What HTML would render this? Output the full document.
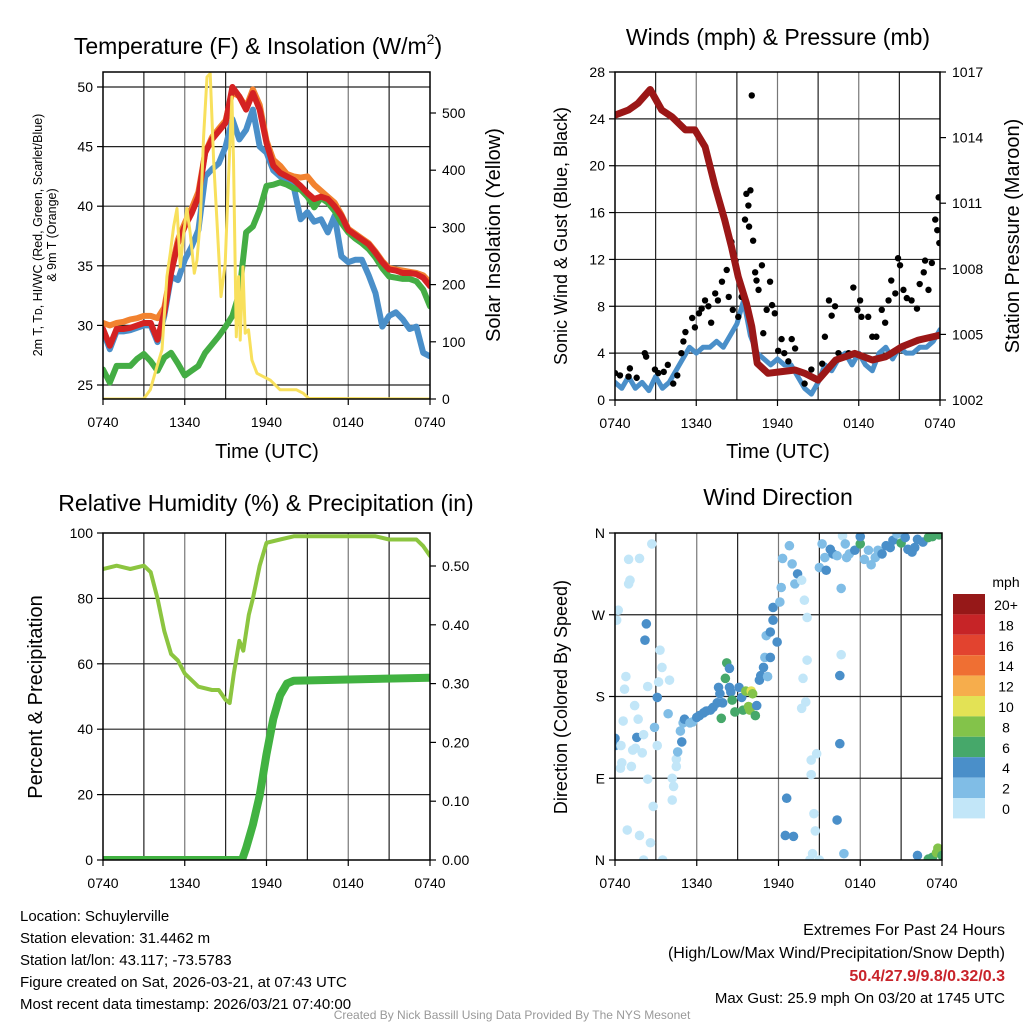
<!DOCTYPE html>
<html><head><meta charset="utf-8"><style>
html,body{margin:0;padding:0;background:#fff;}
svg{display:block;font-family:"Liberation Sans",sans-serif;}
</style></head><body>
<svg id="c" width="1024" height="1024" viewBox="0 0 1024 1024" xmlns="http://www.w3.org/2000/svg"></svg>
<script>
// ---------- DATA ----------
const hours = [];
for (let i = 0; i <= 48; i++) hours.push(i * 0.5);
const xTickLabels = ["0740","1340","1940","0140","0740"];
const tempRed = [29.7,28.3,29.7,29.7,29.8,30,30.2,30.2,28.8,31.1,34.4,36.9,38.3,39.4,40.8,44.5,45.6,46.3,47,50,49.2,48.1,49.5,48.1,45.3,43.4,42.8,42.5,42.2,41.7,41.1,40.6,40.8,40.6,40,39.2,38,37.6,37.2,36.8,36.1,35.3,34.7,34.6,34.4,34.4,34.3,34,33.3];
const temp9mOrange = [30.2,30,30.2,30.3,30.5,30.6,30.8,30.8,30.6,31.5,34.6,37.2,38.6,39.8,41.2,44.5,45.8,46.5,47.2,49.6,49.2,48.3,49.8,48.5,45.5,43.9,43.4,42.7,42.5,42.4,42.5,41.8,41.3,40.8,40.3,39.3,38.1,37.7,37.3,36.9,36.2,35.4,34.8,34.7,34.6,34.5,34.4,34.2,33.6];
const dewGreen = [26.3,25.2,26.6,26.6,26.6,27.2,27.6,27.0,26.2,27.3,27.7,26.8,25.8,26.2,26.6,27.7,28.4,29.1,29.9,30.8,32.7,37.8,38.3,39.7,41.7,41.8,42,41.8,41.5,41.4,40.8,39.9,40.7,40.3,39.6,38.6,37.8,37.3,36.9,36.4,35.7,34.8,34.1,34,33.9,33.9,33.7,33,31.6];
const hiwcBlue = [29.5,28,29.5,29.5,29.6,29.8,30,30,28.6,30.8,34.1,33.8,35.5,36.6,38,42.5,43.1,43.6,45,47.3,45.6,46.4,48.1,45,44.5,43,42.5,42.2,41.6,38.9,39.5,38.7,38.9,37.8,39.2,35.8,35.3,35.5,35.5,34.2,32.7,29.9,30.8,31.1,30.5,29.7,29.9,27.7,27.4];
const solarT = [0,2.98,3.47,3.96,4.33,4.69,4.94,5.18,5.43,5.67,5.92,6.16,6.4,6.7,6.9,7.14,7.38,7.63,7.87,8.12,8.36,8.66,8.97,9.22,9.46,9.58,9.78,9.95,10.07,10.27,10.44,10.68,10.93,11.3,11.78,12.27,13,13.86,14.2,14.7,15.1,24];
const solarV = [0,0,16,57,86,214,255,301,333,231,290,333,290,220,243,313,459,563,569,418,313,179,237,389,528,418,109,214,103,231,115,121,68,45,39,33,16,16,16,10,1,0];
const tempTicks = [25,30,35,40,45,50];
const solarTicks = [0,100,200,300,400,500];

const windBlue = [1.5,1,2,1,1.5,0.8,2,1,1.5,2.5,3.5,4.5,4,4.5,4.5,5,4.5,5.5,6.5,8.5,5.5,4,3.5,3,3.5,3,3,2,1,0.5,1.5,3,2.5,3.5,4,3,4,3,2.5,4,4.5,3.5,4.5,4,4,4.5,4.5,5,6];
const gustT = [0,0.37,1,1.1,1.6,2.2,2.3,2.95,3.2,3.6,3.9,4.3,4.6,4.9,5.05,5.2,5.7,5.9,6.2,6.4,6.65,6.9,7.1,7.4,7.6,7.9,8.25,8.4,8.6,8.7,8.9,9.1,9.35,9.6,9.7,9.85,9.9,10,10.1,10.2,10.35,10.45,10.6,10.85,10.95,11.2,11.45,11.6,11.8,12.05,12.3,12.5,12.8,13.05,13.3,14,14.5,15.3,15.5,15.8,16,16.25,16.5,17.25,17.6,17.9,18.1,18.2,18.7,19,19.3,19.7,19.95,20.2,20.4,20.7,20.9,21.05,21.3,21.55,21.9,22.3,22.5,22.8,22.9,23.15,23.4,23.65,23.8,23.9,23.95];
const gustV = [2.3,2.1,2.0,2.7,1.9,4.0,3.7,2.6,2.3,2.4,3.0,1.4,2.1,4.0,5.0,5.8,7.0,6.2,7.4,7.8,8.5,8.0,6.6,9.1,8.5,10.1,11.1,8.8,13.5,7.7,11.9,7.1,8.8,15.4,17.6,16.6,14.8,17.9,26.0,13.6,10.9,10.2,9.4,11.5,5.7,7.7,10.1,8.1,7.4,4.2,5.2,4.0,3.3,5.2,4.4,1.4,2.6,3.1,5.4,8.5,7.2,8.0,4.0,4.0,9.6,7.7,8.5,7.1,7.1,5.4,5.4,7.7,6.6,8.5,10.2,9.1,12.1,11.5,9.4,8.7,8.5,7.8,9.9,10.9,11.9,9.4,11.7,15.4,14.5,17.3,13.4];
const presT = [0,1,1.7,2.6,3.45,4.2,5.2,5.9,6.65,7.4,8.1,8.6,9.1,9.7,10.1,10.5,11.3,12.3,13.3,14.0,15.0,16.3,17.7,19,20,21.2,22.4,24];
const presV = [1015.03,1015.26,1015.57,1016.2,1015.26,1014.95,1014.35,1014.35,1013.58,1011.75,1010.23,1009.0,1007.64,1006.42,1005.35,1003.68,1003.22,1003.3,1003.37,1003.22,1002.91,1003.83,1004.13,1003.83,1003.98,1004.44,1004.74,1004.97];
const windTicks = [0,4,8,12,16,20,24,28];
const presTicks = [1002,1005,1008,1011,1014,1017];

const rhT = [0,1,2,3,3.5,4,4.5,5,5.5,6,7,8,8.5,9,9.3,9.6,10,10.3,10.7,11,11.5,12,13,14,16,18,20,21,23,23.5,24];
const rhV = [89,90,89,90,88,80,70,63,61,57,53,52,52,49,48,57,67,64,75,80,90,97,98,99,99,99,99,98,98,96,93];
const precT = [0,10.2,10.5,11,11.5,12,12.5,13,13.5,14,24];
const precV = [0,0,0.02,0.06,0.11,0.18,0.24,0.28,0.30,0.305,0.31];
const rhTicks = [0,20,40,60,80,100];
const precTicks = [0,0.1,0.2,0.3,0.4,0.5];

const dirT = [0.24,0.12,1.0,1.8,2.7,1.0,1.1,2.3,2.2,3.3,3.45,0.8,0.7,2.4,3.2,4.0,3.1,1.44,0.6,1.7,3.9,0,0,0.44,1.6,2.1,2.9,3.1,1.3,1.5,2.0,1.2,0.4,0.5,2.4,2.8,0.9,1.8,2.6,2.1,3.5,4.2,4.3,4.2,4.5,4.5,4.6,4.9,4.8,5.0,5.1,5.5,5.7,6.0,6.2,6.5,6.7,7.0,7.2,7.5,7.6,7.7,7.8,7.9,8.2,8.1,8.4,8.4,8.5,8.6,8.8,9.1,9.3,9.4,9.6,9.8,10.0,10.1,9.9,10.3,10.4,10.6,10.7,10.9,11.0,11.2,11.1,11.4,11.4,11.6,11.9,11.6,12.1,12.2,12.3,12.8,13.0,13.2,13.4,13.7,13.9,14.1,14.1,13.8,14.0,13.7,14.8,14.4,14.4,12.6,12.5,13.1,14.6,14.7,14.5,14.3,15.0,15.0,15.2,15.4,15.5,15.8,16.0,16.3,16.5,16.5,16.6,16.6,16.7,16.9,17.0,17.2,17.6,18.0,18.0,18.3,18.6,18.8,19.1,19.3,19.6,19.9,20.2,20.4,20.7,21.0,21.3,21.5,21.8,22.0,22.2,22.6,23.0,23.3,23.8,16.8,16.3,22.2,23.0,23.3,23.6,23.7,24.0];
const dirDeg = [275,264,331,332,348,304,308,260,242,231,212,202,188,191,196,198,179,170,153,155,161,134,126,126,135,138,146,126,121,123,118,103,101,107,89,59,33,27,19,0,0,90,81,66,103,111,119,130,142,151,155,151,152,157,159,162,164,165,168,173,190,183,156,173,217,200,211,190,185,176,163,190,179,165,186,169,186,183,165,159,170,198,203,212,223,202,247,223,251,264,240,278,284,300,332,346,326,304,315,308,286,267,220,200,174,167,117,110,94,68,27,26,51,32,7,0,0,322,348,333,319,342,337,335,128,203,226,299,357,348,333,337,341,348,356,331,341,325,333,341,337,346,344,352,359,349,355,342,339,344,353,350,355,356,358,7,44,5,1,3,8,13,5];
const dirSpeed = [1,1,1,1,1,1,1,5,5,1,1,1,1,1,1,1,5,1,1,1,3,5,5,1,5,1,3,1,1,1,1,1,1,1,1,1,1,1,1,1,1,1,1,1,1,1,3,5,3,3,5,3,3,5,5,5,5,5,5,5,5,5,7,5,7,7,5,5,5,7,7,5,5,7,9,9,10,9,9,7,5,5,5,5,3,3,3,5,5,5,5,5,3,3,3,3,3,3,5,1,1,1,1,1,1,1,1,1,1,5,5,5,1,1,1,1,1,3,3,3,5,5,5,3,5,5,1,3,1,3,3,3,5,7,5,3,3,3,3,3,5,5,5,5,3,7,5,5,5,5,5,5,7,7,7,3,5,5,7,7,9,9,7];
const speedLabels = ["0","2","4","6","8","10","12","14","16","18","20+"];
const speedColors = ["#c2e6f8","#80bde6","#4a8fc9","#46a86a","#83c34a","#e3e255","#f6ad4c","#ef6f33","#e2432f","#c62427","#961818"];
const dirTicks = [0,90,180,270,360];
const dirTickLabels = ["N","E","S","W","N"];

// ---------- DRAW ----------
const NS = "http://www.w3.org/2000/svg";
const svg = document.getElementById("c");
function el(tag, attrs, parent) {
  const e = document.createElementNS(NS, tag);
  for (const k in attrs) e.setAttribute(k, attrs[k]);
  (parent || svg).appendChild(e);
  return e;
}
function txt(s, x, y, size, anchor, extra) {
  const t = el("text", Object.assign({x: x, y: y, "font-size": size, "text-anchor": anchor || "middle", fill: "#000"}, extra || {}));
  t.textContent = s;
  return t;
}
function scale(d0, d1, r0, r1) { return v => r0 + (v - d0) / (d1 - d0) * (r1 - r0); }
function pathFrom(ts, vs, xs, ys) {
  let d = "";
  for (let i = 0; i < ts.length; i++) { if (vs[i] == null) continue; d += (d ? "L" : "M") + xs(ts[i]).toFixed(1) + "," + ys(vs[i]).toFixed(1); }
  return d;
}

function frame(p, name, leftTicks, leftFmt, rightTicks, rightFmt, ysL, ysR) {
  const g = el("g", {});
  
  
  for (let h = 3; h < 24; h += 3) {
    const x = p.xs(h);
    const gl = el("line", {x1: x, x2: x, y1: p.y0, y2: p.y1, stroke: (h % 6 === 0) ? "#777" : "#222", "stroke-width": 1.2}, g);
    
    
  }
  leftTicks.forEach((v, i) => {
    const y = ysL(v);
    if (y > p.y0 + 1 && y < p.y1 - 1) {
      const hl = el("line", {x1: p.x0, x2: p.x1, y1: y, y2: y, stroke: "#222", "stroke-width": 1.2}, g);
      
      
    }
    el("line", {x1: p.x0 - 6, x2: p.x0, y1: y, y2: y, stroke: "#000", "stroke-width": 1.2}, g);
    const t = txt(leftFmt(v, i), p.x0 - 10, y + 5, 14, "end");
    
    
  });
  if (rightTicks) rightTicks.forEach((v, i) => {
    const y = ysR(v);
    el("line", {x1: p.x1, x2: p.x1 + 6, y1: y, y2: y, stroke: "#000", "stroke-width": 1.2}, g);
    const t = txt(rightFmt(v, i), p.x1 + 12, y + 5, 14, "start");
    
    
  });
  xTickLabels.forEach((s, i) => {
    const x = p.xs(i * 6);
    el("line", {x1: x, x2: x, y1: p.y1, y2: p.y1 + 6, stroke: "#000", "stroke-width": 1.2}, g);
    const t = txt(s, x, p.y1 + 28, 14, "middle");
    
    
  });
  return g;
}
function border(p) {
  const b = el("rect", {x: p.x0, y: p.y0, width: p.x1 - p.x0, height: p.y1 - p.y0, fill: "none", stroke: "#000", "stroke-width": 1.5});
  
  
}
function clip(id, p) {
  const cp = el("clipPath", {id: id});
  el("rect", {x: p.x0, y: p.y0, width: p.x1 - p.x0, height: p.y1 - p.y0}, cp);
}
function line(ts, vs, p, ys, color, w, name, clipId) {
  const l = el("path", {d: pathFrom(ts, vs, p.xs, ys), fill: "none", stroke: color, "stroke-width": w, "stroke-linejoin": "round", "stroke-linecap": "round", "clip-path": "url(#" + clipId + ")"});
  
  
  return l;
}
function rotText(s, x, y, size, name) {
  const t = txt(s, x, y, size, "middle", {transform: "rotate(-90 " + x + " " + y + ")"});
  
  
  return t;
}

// Panel 1
const p1 = {x0: 103, x1: 430, y0: 72, y1: 399};
p1.xs = scale(0, 24, p1.x0, p1.x1);
const y1L = scale(25, 50, 385, 87);
const y1R = scale(0, 500, 399, 113);
clip("c1", p1);
frame(p1, "temperature", tempTicks, v => String(v), solarTicks, v => String(v), y1L, y1R);
line(hours, hiwcBlue, p1, y1L, "#4a8fc9", 6, "heat-index-windchill-line", "c1");
line(hours, dewGreen, p1, y1L, "#44ad44", 6, "dewpoint-line", "c1");
line(hours, temp9mOrange, p1, y1L, "#f2822f", 6, "temperature-9m-line", "c1");
line(hours, tempRed, p1, y1L, "#d42222", 6, "temperature-2m-line", "c1");
line(solarT, solarV, p1, y1R, "#f8e05c", 3, "solar-insolation-line", "c1");
border(p1);
let t = txt("Temperature (F) & Insolation (W/m", 258, 54, 23, "middle");


const sup = el("tspan", {"font-size": 14, dy: -10}, t); sup.textContent = "2";
const sup2 = el("tspan", {dy: 10}, t); sup2.textContent = ")";
t = txt("Time (UTC)", 267, 458, 20);  
rotText("2m T, T\u1d05, HI/WC (Red, Green, Scarlet/Blue)", 42, 235, 12.5, "temperature-y-axis-title");
rotText("& 9m T (Orange)", 56, 235, 12.5, "temperature-y-axis-title-line2");
rotText("Solar Insolation (Yellow)", 500, 235, 20, "solar-y-axis-title");

// Panel 2
const p2 = {x0: 615, x1: 940, y0: 72, y1: 400};
p2.xs = scale(0, 24, p2.x0, p2.x1);
const y2L = scale(0, 28, 400, 72);
const y2R = scale(1002, 1017, 400, 72);
clip("c2", p2);
frame(p2, "winds", windTicks, v => String(v), presTicks, v => String(v), y2L, y2R);
line(hours, windBlue, p2, y2L, "#4a8fc9", 5, "sonic-wind-line", "c2");
const gg = el("g", {"clip-path": "url(#c2)"});


gustT.forEach((h, i) => {
  const c = el("circle", {cx: p2.xs(h), cy: y2L(gustV[i]), r: 3.2, fill: "#000"}, gg);
  
  
});
line(presT, presV, p2, y2R, "#9b1717", 7, "station-pressure-line", "c2");
border(p2);
t = txt("Winds (mph) & Pressure (mb)", 778, 45, 23);  
t = txt("Time (UTC)", 778, 458, 20);  
rotText("Sonic Wind & Gust (Blue, Black)", 567, 236, 18, "wind-y-axis-title");
rotText("Station Pressure (Maroon)", 1019, 236, 20, "pressure-y-axis-title");

// Panel 3
const p3 = {x0: 103, x1: 430, y0: 533, y1: 860};
p3.xs = scale(0, 24, p3.x0, p3.x1);
const y3L = scale(0, 100, 860, 533);
const y3R = scale(0, 0.5, 860, 566);
clip("c3", p3);
frame(p3, "humidity", rhTicks, v => String(v), precTicks, v => v.toFixed(2), y3L, y3R);
line(rhT, rhV, p3, y3L, "#8cc540", 4, "relative-humidity-line", "c3");
line(precT, precV, p3, y3R, "#41b241", 8, "precipitation-line", "c3");
border(p3);
t = txt("Relative Humidity (%) & Precipitation (in)", 266, 511, 23);  
rotText("Percent & Precipitation", 42, 697, 20, "humidity-y-axis-title");

// Panel 4
const p4 = {x0: 615, x1: 942, y0: 533, y1: 860};
p4.xs = scale(0, 24, p4.x0, p4.x1);
const y4 = scale(0, 360, 860, 533);
clip("c4", p4);
frame(p4, "wind-direction", dirTicks, (v, i) => dirTickLabels[i], null, null, y4, null);
const dg = el("g", {"clip-path": "url(#c4)"});


dirT.forEach((h, i) => {
  const s = dirSpeed[i];
  const ci = Math.min(10, Math.max(0, Math.floor(s / 2)));
  const c = el("circle", {cx: p4.xs(h), cy: y4(dirDeg[i]), r: 4.8, fill: speedColors[ci]}, dg);
  
  
});
border(p4);
t = txt("Wind Direction", 778, 505, 23);  
rotText("Direction (Colored By Speed)", 567, 697, 18, "direction-y-axis-title");

// Colorbar legend
const lg = el("g", {});


t = txt("mph", 1006, 587, 14);  
speedLabels.forEach((s, i) => {
  const k = speedLabels.length - 1 - i;
  const y = 594 + i * 20.4;
  const r = el("rect", {x: 953, y: y, width: 32, height: 20.4, fill: speedColors[k]}, lg);
  
  
  const lt = txt(speedLabels[k], 1006, y + 16, 14, "middle");
  
  
});

// Footer text
const info = ["Location: Schuylerville","Station elevation: 31.4462 m","Station lat/lon: 43.117; -73.5783","Figure created on Sat, 2026-03-21, at 07:43 UTC","Most recent data timestamp: 2026/03/21 07:40:00"];
info.forEach((s, i) => {
  const it = txt(s, 20, 921 + i * 22, 15, "start");
  
  
});
t = txt("Extremes For Past 24 Hours", 1005, 935, 16, "end");  
t = txt("(High/Low/Max Wind/Precipitation/Snow Depth)", 1005, 958, 16, "end");  
t = txt("50.4/27.9/9.8/0.32/0.3", 1005, 981, 16, "end", {fill: "#c8232a", "font-weight": "bold"});  
t = txt("Max Gust: 25.9 mph On 03/20 at 1745 UTC", 1005, 1003, 15, "end");  
t = txt("Created By Nick Bassill Using Data Provided By The NYS Mesonet", 512, 1019, 12, "middle", {fill: "#999"});  
</script>
</body></html>
